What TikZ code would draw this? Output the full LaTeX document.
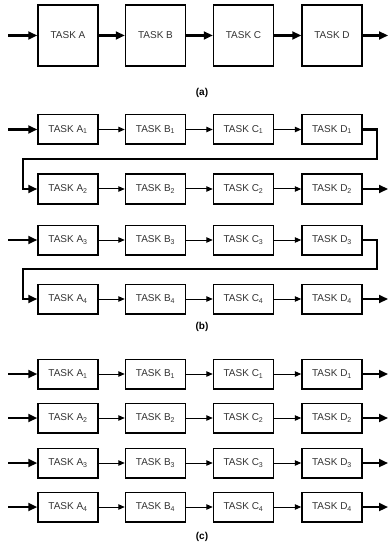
\documentclass[tikz,border=0pt]{standalone}
\usepackage{fontspec}
\setmainfont{Liberation Sans}
\usetikzlibrary{arrows.meta}
\begin{document}
\begin{tikzpicture}[x=1pt,y=-1pt,
  task/.style={draw=black, line width=1.5pt, minimum width=60pt, inner sep=0pt,
    font=\fontsize{10}{12}\selectfont, text=black!80},
  tall/.style={task, minimum height=61pt},
  short/.style={task, minimum height=29.5pt},
  thick flow/.style={line width=2.2pt, -{Triangle[length=9pt,width=8pt]}},
  thin flow/.style={line width=1pt, -{Triangle[length=6.5pt,width=5.5pt]}},
  caption/.style={font=\bfseries\fontsize{10}{12}\selectfont}]
\useasboundingbox (0,0) rectangle (389,553);

% ---------- (a) single pipeline of tall stages ----------
\node[tall] (aA) at (68,35.5) {TASK A};
\node[tall] (aB) at (155.5,35.5) {TASK B};
\node[tall] (aC) at (243.5,35.5) {TASK C};
\node[tall] (aD) at (332,35.5) {TASK D};
\coordinate (aIn) at (8,35.5);
\coordinate (aOut) at (388,35.5);
\draw[thick flow] (aIn) -- (aA);
\draw[thick flow] (aA) -- (aB);
\draw[thick flow] (aB) -- (aC);
\draw[thick flow] (aC) -- (aD);
\draw[thick flow] (aD) -- (aOut);
\node[caption] (capA) at (202,93) {(a)};

% ---------- (b) rows chained in pairs ----------
\foreach \r/\y in {1/129.5, 2/189, 3/240, 4/299} {
  \node[short] (bA\r) at (68,\y) {TASK A\textsubscript{\r}};
  \node[short] (bB\r) at (155.5,\y) {TASK B\textsubscript{\r}};
  \node[short] (bC\r) at (243.5,\y) {TASK C\textsubscript{\r}};
  \node[short] (bD\r) at (332,\y) {TASK D\textsubscript{\r}};
  \draw[thin flow] (bA\r) -- (bB\r);
  \draw[thin flow] (bB\r) -- (bC\r);
  \draw[thin flow] (bC\r) -- (bD\r);
}
\coordinate (bIn1) at (8,129.5);
\coordinate (bIn3) at (8,240);
\coordinate (bOut2) at (388,189);
\coordinate (bOut4) at (388,299);
\draw[thick flow] (bIn1) -- (bA1);
\draw[thick flow] (bIn3) -- (bA3);
\draw[thick flow] (bD2) -- (bOut2);
\draw[thick flow] (bD4) -- (bOut4);
% wrap-around links from the end of one row to the start of the next
\coordinate (wR1) at (377,159);
\coordinate (wL1) at (23,159);
\coordinate (wR3) at (377,269);
\coordinate (wL3) at (23,269);
\draw[thick flow] (bD1.east) -| (wR1) -- (wL1) |- (bA2.west);
\draw[thick flow] (bD3.east) -| (wR3) -- (wL3) |- (bA4.west);
\node[caption] (capB) at (202,327) {(b)};

% ---------- (c) four independent rows ----------
\foreach \r/\y in {1/374, 2/418, 3/463, 4/507} {
  \node[short] (cA\r) at (68,\y) {TASK A\textsubscript{\r}};
  \node[short] (cB\r) at (155.5,\y) {TASK B\textsubscript{\r}};
  \node[short] (cC\r) at (243.5,\y) {TASK C\textsubscript{\r}};
  \node[short] (cD\r) at (332,\y) {TASK D\textsubscript{\r}};
  \coordinate (cIn\r) at (8,\y);
  \coordinate (cOut\r) at (388,\y);
  \draw[thick flow] (cIn\r) -- (cA\r);
  \draw[thin flow] (cA\r) -- (cB\r);
  \draw[thin flow] (cB\r) -- (cC\r);
  \draw[thin flow] (cC\r) -- (cD\r);
  \draw[thick flow] (cD\r) -- (cOut\r);
}
\node[caption] (capC) at (202,537) {(c)};
\end{tikzpicture}
\end{document}
